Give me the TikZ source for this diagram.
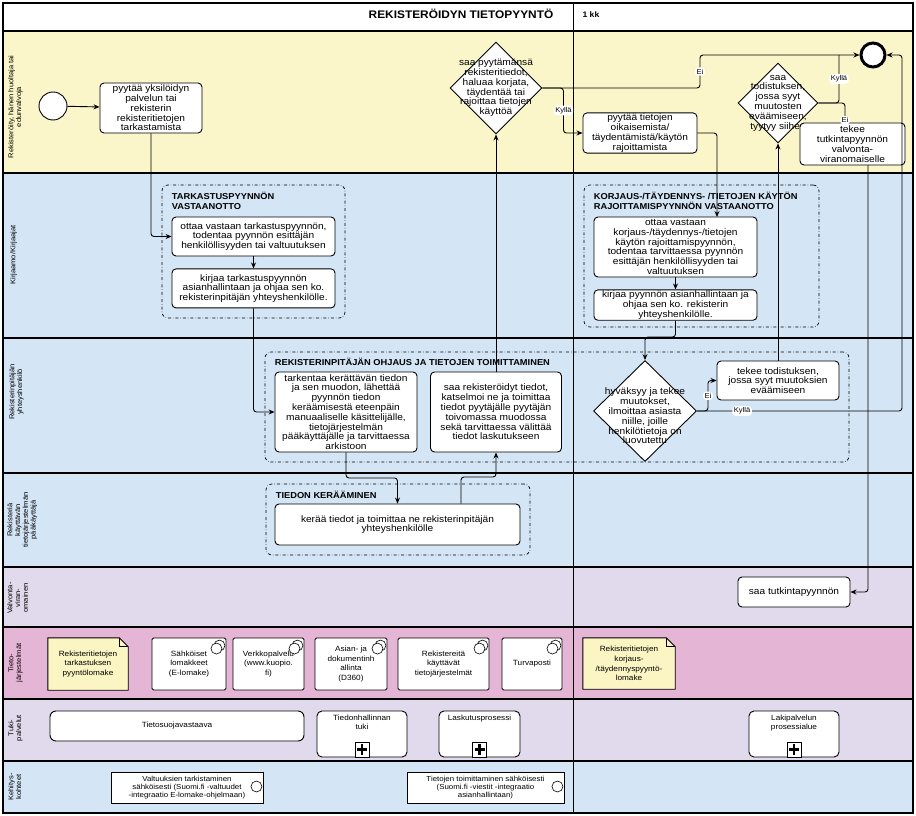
\documentclass[tikz,border=0pt]{standalone}
\usepackage{fontspec}
\setmainfont{Liberation Sans}[FakeStretch=1.08]
\usetikzlibrary{shapes.geometric,arrows.meta,positioning,fit,calc}
\definecolor{laneyellow}{HTML}{FAF6C9}
\definecolor{laneblue}{HTML}{D4E5F5}
\definecolor{lanelilac}{HTML}{E1DAEC}
\definecolor{lanepink}{HTML}{E5B5D6}
\definecolor{notefill}{HTML}{FBF5C4}
\newcommand\taskfont{\fontsize{9.4}{9.8}\selectfont}
\newcommand\grpfont{\fontsize{8.6}{10}\selectfont\bfseries}
\newcommand\sysfont{\fontsize{7.6}{9.6}\selectfont}
\newcommand\lanefont{\fontsize{7}{7.8}\selectfont}
\newcommand\devfont{\fontsize{7.3}{8.3}\selectfont}
\tikzset{
  task/.style={rectangle,rounded corners=4pt,draw,fill=white,line width=0.9pt,
    font=\taskfont,align=center,inner sep=1pt},
  gw/.style={diamond,draw,fill=white,line width=0.9pt,inner sep=0pt},
  gwtxt/.style={font=\taskfont,align=center,inner sep=0pt},
  grp/.style={draw,dash dot,rounded corners=6pt,line width=0.7pt,inner sep=0pt},
  grplbl/.style={font=\grpfont,align=left,anchor=north west,inner sep=0pt},
  sysbox/.style={rectangle,rounded corners=1.5pt,draw,fill=white,line width=0.9pt,
    font=\sysfont,align=center,inner sep=1pt,minimum height=52pt},
  note/.style={rectangle,fill=notefill,font=\sysfont,align=center,inner sep=1pt},
  subproc/.style={task,font=\sysfont,minimum height=46pt,rounded corners=5pt},
  sublbl/.style={anchor=north,font=\sysfont,align=center,inner sep=1pt,yshift=-3pt},
  plusmark/.style={draw,line width=0.8pt,fill=white,minimum width=14pt,minimum height=15pt,
    inner sep=0pt,anchor=south,
    path picture={\draw[line width=2.4pt]
      ([yshift=-2pt]path picture bounding box.north) -- ([yshift=2pt]path picture bounding box.south)
      ([xshift=2pt]path picture bounding box.west) -- ([xshift=-2pt]path picture bounding box.east);}},
  devbox/.style={rectangle,draw,fill=white,line width=0.9pt,font=\devfont,align=center,
    inner sep=1pt,minimum height=31pt},
  lanelbl/.style={rotate=90,anchor=north,font=\lanefont,align=center,inner sep=0pt},
  laneline/.style={line width=1.8pt},
  arr/.style={-{Stealth[length=6pt,width=5pt]},line width=0.9pt,rounded corners=3pt},
  flow/.style={line width=0.9pt,rounded corners=3pt},
  lbl/.style={font=\lanefont,fill=white,inner sep=1.5pt},
}
\newcommand\sysicon[1]{%
  \draw[fill=white,line width=0.6pt] ($(#1.north -| #1.east)+(-7,8)$) circle (5.5pt);
  \draw[fill=white,line width=0.6pt] ($(#1.north -| #1.east)+(-10,11)$) circle (5.5pt);}
\newcommand\docfold[1]{%
  \fill[lanepink] ($(#1.north -| #1.east)+(-9,0)$) -- (#1.north -| #1.east) -- ($(#1.north -| #1.east)+(0,9)$) -- cycle;
  \draw[line width=0.9pt] (#1.north west) -- ($(#1.north -| #1.east)+(-9,0)$) -- ($(#1.north -| #1.east)+(0,9)$)
    -- (#1.south east) -- (#1.south west) -- cycle;
  \draw[line width=0.7pt] ($(#1.north -| #1.east)+(-9,0)$) |- ($(#1.north -| #1.east)+(0,9)$);}
\newcommand\devicon[1]{%
  \draw[fill=white,line width=0.6pt] ($(#1.east)+(-7,-1)$) circle (5.5pt);}

\begin{document}
\begin{tikzpicture}[x=1pt,y=-1pt]
  \useasboundingbox (0,0) rectangle (916,816);
  % lanes
  \fill[white] (3,3) rectangle (913,31);
  \fill[laneyellow] (3,31) rectangle (913,173);
  \fill[laneblue] (3,173) rectangle (913,567);
  \fill[lanelilac] (3,567) rectangle (913,627);
  \fill[lanepink] (3,627) rectangle (913,699);
  \fill[lanelilac] (3,699) rectangle (913,761);
  \fill[laneblue] (3,761) rectangle (913,813);
  \foreach \y in {31,173,338,473,567,627,699,761}
    \draw[laneline] (3,\y) -- (913,\y);
  \draw[line width=1pt] (573,3) -- (573,813);
  \draw[line width=1.2pt] (3,3) rectangle (913,813);

  \node[font=\fontsize{11}{13}\selectfont\bfseries] (title) at (461,14) {REKISTERÖIDYN TIETOPYYNTÖ};
  \node[font=\fontsize{8}{9}\selectfont\bfseries,anchor=west] (phase) at (579,15) {1 kk};

  \node[lanelbl] (l_reg) at (8,107) {Rekisteröity, hänen huoltaja tai\\edunvalvoja};
  \node[lanelbl] (l_kirj) at (10,255) {Kirjaamo/Kirjaajat};
  \node[lanelbl] (l_yht) at (9,392) {Rekisterinpitäjän\\yhteyshenkilö};
  \node[lanelbl] (l_paak) at (7,520) {Rekisteriä\\käyttävän\\tietojärjestelmän\\pääkäyttäjä};
  \node[lanelbl] (l_valv) at (7,598) {Valvonta-\\viran-\\omainen};
  \node[lanelbl] (l_tj) at (8,663) {Tieto-\\järjestelmät};
  \node[lanelbl] (l_tuki) at (8,728) {Tuki-\\palvelut};
  \node[lanelbl] (l_keh) at (8,787) {Kehitys-\\kohteet};

  % groups
  \node[grp,fit={(162,185) (345,318)}] (g_tark) {};
  \node[grplbl] (g_tark_l) at ([xshift=10pt,yshift=-7pt]g_tark.north west) {TARKASTUSPYYNNÖN\\VASTAANOTTO};
  \node[grp,fit={(584,185) (819,327)}] (g_korj) {};
  \node[grplbl] (g_korj_l) at ([xshift=10pt,yshift=-7pt]g_korj.north west) {KORJAUS-/TÄYDENNYS- /TIETOJEN KÄYTÖN\\RAJOITTAMISPYYNNÖN VASTAANOTTO};
  \node[grp,fit={(265,352) (849,462)}] (g_ohj) {};
  \node[grplbl] (g_ohj_l) at ([xshift=10pt,yshift=-6pt]g_ohj.north west) {REKISTERINPITÄJÄN OHJAUS JA TIETOJEN TOIMITTAMINEN};
  \node[grp,fit={(266,484) (530,555)}] (g_ker) {};
  \node[grplbl] (g_ker_l) at ([xshift=10pt,yshift=-7pt]g_ker.north west) {TIEDON KERÄÄMINEN};

  % lane 1
  \node[circle,draw,fill=white,line width=0.9pt,minimum size=28pt,inner sep=0pt] (ev_start) at (53,106) {};
  \node[task,minimum width=102pt,minimum height=50pt] (t_req) at (151,108)
    {pyytää yksilöidyn\\palvelun tai\\rekisterin\\rekisteritietojen\\tarkastamista};
  \node[gw,minimum width=92pt,minimum height=92pt,
    label={[gwtxt]center:{saa pyytämänsä\\rekisteritiedot,\\haluaa korjata,\\täydentää tai\\rajoittaa tietojen\\käyttöä}}] (d1) at (496,88) {};
  \node[task,minimum width=114pt,minimum height=39pt] (t_fix) at (640,133)
    {pyytää tietojen\\oikaisemista/\\täydentämistä/käytön\\rajoittamista};
  \node[circle,draw,fill=white,line width=3pt,minimum size=24pt,inner sep=0pt] (ev_end) at (873,55) {};
  \node[gw,minimum width=80pt,minimum height=80pt,
    label={[gwtxt]center:{saa\\todistuksen,\\jossa syyt\\muutosten\\eväämiseen,\\tyytyy siihen}}] (d2) at (778,103) {};
  \node[task,minimum width=105pt,minimum height=42pt] (t_inv) at (852.5,144)
    {tekee\\tutkintapyynnön\\valvonta-\\viranomaiselle};

  % lane 2
  \node[task,minimum width=163pt,minimum height=39pt] (t_recv) at (253.5,236.5)
    {ottaa vastaan tarkastuspyynnön,\\todentaa pyynnön esittäjän\\henkilöllisyyden tai valtuutuksen};
  \node[task,minimum width=163pt,minimum height=39pt,below=12pt of t_recv] (t_reg)
    {kirjaa tarkastuspyynnön\\asianhallintaan ja ohjaa sen ko.\\rekisterinpitäjän yhteyshenkilölle.};
  \node[task,minimum width=163pt,minimum height=60pt] (t_recv2) at (675.5,247)
    {ottaa vastaan\\korjaus-/täydennys-/tietojen\\käytön rajoittamispyynnön,\\todentaa tarvittaessa pyynnön\\esittäjän henkilöllisyyden tai\\valtuutuksen};
  \node[task,minimum width=163pt,minimum height=30pt,below=12pt of t_recv2] (t_reg2)
    {kirjaa pyynnön asianhallintaan ja\\ohjaa sen ko. rekisterin\\yhteyshenkilölle.};

  % lane 3
  \node[task,minimum width=142pt,minimum height=80pt] (t_spec) at (346,412)
    {tarkentaa kerättävän tiedon\\ja sen muodon, lähettää\\pyynnön tiedon\\keräämisestä eteenpäin\\manuaaliselle käsittelijälle,\\tietojärjestelmän\\pääkäyttäjälle ja tarvittaessa\\arkistoon};
  \node[task,minimum width=131pt,minimum height=80pt] (t_send) at (496,412)
    {saa rekisteröidyt tiedot,\\katselmoi ne ja toimittaa\\tiedot pyytäjälle pyytäjän\\toivomassa muodossa\\sekä tarvittaessa välittää\\tiedot laskutukseen};
  \node[gw,minimum width=103pt,minimum height=101pt,
    label={[gwtxt,yshift=-5pt]center:{hyväksyy ja tekee\\muutokset,\\ilmoittaa asiasta\\niille, joille\\henkilötietoja on\\luovutettu}}] (d3) at (645,411) {};
  \node[task,minimum width=122pt,minimum height=39pt] (t_cert) at (778,380.5)
    {tekee todistuksen,\\jossa syyt muutoksien\\eväämiseen};

  % lane 4 and 5
  \node[task,minimum width=245pt,minimum height=41pt] (t_coll) at (397.5,524.5)
    {kerää tiedot ja toimittaa ne rekisterinpitäjän\\yhteyshenkilölle};
  \node[task,minimum width=112pt,minimum height=30pt] (t_rcv) at (794,592) {saa tutkintapyynnön};

  % lane 6
  \node[note,minimum width=80pt,minimum height=52pt] (n_tark) at (88,664)
    {Rekisteritietojen\\tarkastuksen\\pyyntölomake};
  \docfold{n_tark}
  \node[sysbox,minimum width=74pt] (s_elom) at (189,664) {Sähköiset\\lomakkeet\\(E-lomake)};
  \sysicon{s_elom}
  \node[sysbox,minimum width=71pt] (s_web) at (268.5,664) {Verkkopalvelu\\(www.kuopio.\\fi)};
  \sysicon{s_web}
  \node[sysbox,minimum width=72pt] (s_d360) at (351,664) {Asian- ja\\dokumentinh\\allinta\\(D360)};
  \sysicon{s_d360}
  \node[sysbox,minimum width=91pt] (s_regsys) at (443.5,664) {Rekistereitä\\käyttävät\\tietojärjestelmät};
  \sysicon{s_regsys}
  \node[sysbox,minimum width=60pt] (s_tpost) at (532,664) {Turvaposti};
  \sysicon{s_tpost}
  \node[note,minimum width=92pt,minimum height=51pt] (n_korj) at (629,663.5)
    {Rekisteritietojen\\korjaus-\\/täydennyspyyntö-\\lomake};
  \docfold{n_korj}

  % lane 7
  \node[task,font=\sysfont,minimum width=254pt,minimum height=30pt,rounded corners=6pt] (tuki_ts) at (177,726) {Tietosuojavastaava};
  \node[subproc,minimum width=90pt,label={[sublbl]north:{Tiedonhallinnan\\tuki}}] (tuki_th) at (362,734) {};
  \node[plusmark] (p_th) at (tuki_th.south) {};
  \node[subproc,minimum width=81pt,label={[sublbl]north:{Laskutusprosessi}}] (tuki_lk) at (479.5,734) {};
  \node[plusmark] (p_lk) at (tuki_lk.south) {};
  \node[subproc,minimum width=90pt,label={[sublbl]north:{Lakipalvelun\\prosessialue}}] (tuki_lp) at (794,734) {};
  \node[plusmark] (p_lp) at (tuki_lp.south) {};

  % lane 8
  \node[devbox,minimum width=152pt] (kk_valt) at (187,787.5)
    {Valtuuksien tarkistaminen\\sähköisesti (Suomi.fi -valtuudet\\-integraatio E-lomake-ohjelmaan)};
  \devicon{kk_valt}
  \node[devbox,minimum width=157pt] (kk_tiet) at (485.5,787.5)
    {Tietojen toimittaminen sähköisesti\\(Suomi.fi -viestit -integraatio\\asianhallintaan)};
  \devicon{kk_tiet}

  % flows
  \coordinate (k_ei) at (700,55);
  \coordinate (k_korj) at (717,217);
  \coordinate (k_d3) at (660,337);
  \coordinate (k_ok) at (902,55);
  \coordinate (k_d2) at (839,55);
  \coordinate (k_inv) at (845,123);
  \coordinate (k_tut) at (868,165);
  \coordinate (k_ker) at (397.5,478);
  \coordinate (k_ret) at (461,477);
  \draw[arr] (ev_start) -- (t_req);
  \draw[arr] (t_req.south) |- (t_recv.west);
  \draw[arr] (t_recv) -- (t_reg);
  \draw[arr] (t_reg.south) |- (t_spec.west);
  \draw[arr] (t_spec.south) |- (k_ker) -- (t_coll.north);
  \draw[arr] (k_ret |- t_coll.north) -- (k_ret) -| (t_send.south);
  \draw[arr] (t_send.north) -- (d1.south);
  \draw[arr] (d1.east) -| node[lbl,pos=0.75] {Ei} (k_ei) -- (ev_end.west);
  \draw[arr] (d1.east) -- ++(21,0) |- node[lbl,pos=0.25] {Kyllä} (t_fix.west);
  \draw[arr] (t_fix.east) -| (k_korj);
  \draw[arr] (t_recv2) -- (t_reg2);
  \draw[arr] (t_reg2.south) |- (k_d3) -| (d3.north);
  \draw[arr] (d3.east) -- ++(11,0) |- node[lbl,pos=0.25] {Ei} (t_cert.west);
  \draw[arr] (d3.east) -| node[lbl,pos=0.11] {Kyllä} (k_ok) -- (ev_end.east);
  \draw[arr] (t_cert) -- (d2);
  \draw[flow] (d2.east) -| node[lbl,pos=0.75] {Kyllä} (k_d2);
  \draw[arr] (d2.east) -| node[lbl,pos=0.93] {Ei} (k_inv);
  \draw[arr] (k_tut) |- (t_rcv.east);
\end{tikzpicture}
\end{document}
